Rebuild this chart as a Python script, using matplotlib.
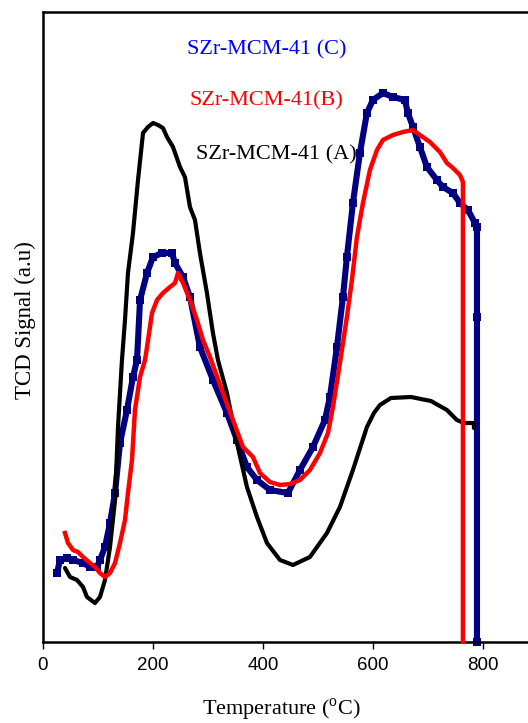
import matplotlib
matplotlib.use("Agg")
import matplotlib.pyplot as plt

plt.rcParams['mathtext.fontset'] = 'custom'
plt.rcParams['mathtext.rm'] = 'Liberation Serif'

# Sample A (black)
temp_a = [40.8, 49.9, 62.6, 73.5, 80.7, 95.2, 104.3, 113.4, 122.5, 131.6, 137.0, 144.2,
          149.7, 155.1, 164.2, 173.3, 182.4, 191.4, 200.5, 209.6, 218.6, 225.9, 236.8,
          249.5, 258.5, 267.6, 276.7, 285.7, 298.4, 309.3, 318.4, 334.7, 352.9, 371.0,
          389.2, 407.3, 430.9, 454.5, 485.3, 516.2, 539.7, 563.3, 588.7, 601.4, 612.3,
          632.3, 668.6, 704.9, 733.9, 752.0, 764.7, 782.9, 782.9]
sig_a = [73.7, 64.7, 61.7, 54.7, 44.7, 38.7, 44.7, 61.7, 94.7, 141.7, 214.7, 281.7,
         321.7, 368.7, 408.7, 461.7, 508.7, 514.7, 518.7, 516.7, 513.7, 504.7, 494.7,
         474.7, 464.7, 434.7, 421.7, 388.7, 348.7, 308.7, 281.7, 248.7, 198.7, 154.7,
         124.7, 98.7, 81.7, 76.7, 84.7, 108.7, 134.7, 171.7, 214.7, 228.7, 236.7,
         243.7, 244.7, 240.7, 231.7, 221.7, 218.7, 218.7, 213.7]

# Sample B (red)
temp_b = [40.8, 46.3, 55.3, 64.4, 73.5, 86.2, 95.2, 104.3, 113.4, 122.5, 131.6, 140.6,
          149.7, 155.1, 162.4, 167.8, 176.9, 186.0, 189.7, 198.7, 207.8, 218.6, 231.4,
          240.4, 245.9, 255.0, 267.6, 280.3, 291.2, 303.9, 327.5, 345.6, 363.8, 381.9,
          394.6, 412.8, 430.9, 449.1, 467.2, 485.3, 503.5, 518.0, 527.1, 539.7, 552.4,
          561.5, 570.6, 581.5, 594.2, 606.9, 617.7, 635.9, 654.0, 672.2, 684.9, 703.0,
          721.2, 733.9, 744.8, 757.5, 762.9, 762.9]
sig_b = [108.7, 98.7, 91.7, 89.7, 84.7, 78.7, 74.7, 68.7, 64.7, 68.7, 78.7, 98.7,
         121.7, 148.7, 181.7, 231.7, 264.7, 281.7, 294.7, 328.7, 341.7, 348.7, 354.7,
         358.7, 368.7, 358.7, 341.7, 321.7, 301.7, 284.7, 248.7, 221.7, 194.7, 184.7,
         168.7, 159.7, 156.7, 157.7, 161.7, 171.7, 188.7, 208.7, 234.7, 278.7, 324.7,
         361.7, 404.7, 438.7, 471.7, 491.7, 501.7, 506.7, 509.7, 511.7, 506.7, 499.7,
         489.7, 478.7, 473.7, 466.7, 459.7, 0.0]

# Sample C (navy)
temp_c = [26.3, 31.8, 44.5, 55.3, 73.5, 86.2, 98.9, 104.3, 113.4, 122.5, 131.6, 140.6,
          153.3, 164.2, 171.5, 177.0, 189.7, 200.5, 216.8, 234.9, 240.4, 254.9, 267.6,
          285.7, 309.3, 334.7, 352.9, 371.0, 389.2, 412.8, 445.4, 467.2, 490.8, 512.5,
          521.6, 534.3, 545.2, 552.4, 563.3, 576.0, 588.7, 599.6, 617.7, 635.9, 657.6,
          663.1, 672.2, 684.9, 697.6, 715.7, 726.6, 744.8, 757.5, 772.0, 784.7, 788.4,
          788.4, 788.4]
sig_c = [68.7, 81.7, 83.7, 81.7, 78.7, 74.7, 74.7, 81.7, 94.7, 118.7, 148.7, 198.7,
         231.7, 264.7, 281.7, 341.7, 368.7, 384.7, 388.7, 388.7, 378.7, 364.7, 344.7,
         294.7, 261.7, 228.7, 201.7, 174.7, 161.7, 151.7, 148.7, 171.7, 194.7, 221.7,
         244.7, 294.7, 344.7, 384.7, 438.7, 488.7, 528.7, 541.7, 548.7, 544.7, 541.7,
         528.7, 514.7, 494.7, 474.7, 461.7, 454.7, 448.7, 438.7, 431.7, 418.7, 414.7,
         325.0, 0.0]

xticks = [0, 200, 400, 600, 800]
labels = ["SZr-MCM-41 (C)", "SZr-MCM-41(B)", "SZr-MCM-41 (A)"]

fig = plt.figure(figsize=(5.28, 7.23), dpi=100)
ax = fig.add_axes([42.5/528, (723-641.7)/723, 1 - 42.5/528, (641.7-12)/723])

ax.plot(temp_c, sig_c, color='#000080', lw=4.4, marker='s', ms=5.2, mew=0,
        solid_joinstyle='round', zorder=2, clip_on=False)
ax.plot(temp_a, sig_a, color='black', lw=3.0, solid_joinstyle='round',
        solid_capstyle='round', zorder=3, clip_on=False)
ax.plot(temp_b, sig_b, color='#ff0000', lw=3.2, solid_joinstyle='round',
        zorder=4, clip_on=False)

ax.set_xlim(0, 881)
ax.set_ylim(0, 629.7)
ax.set_xticks(xticks)
ax.set_xticklabels([str(t) for t in xticks], fontfamily='Liberation Sans', fontsize=13.5)
ax.set_yticks([])
ax.tick_params(axis='x', direction='out', length=5, width=1, pad=6)
for s in ['left', 'top', 'bottom']:
    ax.spines[s].set_linewidth(1.8)
ax.spines['right'].set_visible(False)

serif = 'Liberation Serif'
ax.text(262, 592, labels[0], color='#0000ff', fontsize=16, family=serif, va='center', ha='left')
ax.text(267.6, 541, labels[1], color='#ff0000', fontsize=16, family=serif, va='center', ha='left')
ax.text(278.5, 486.7, labels[2], color='black', fontsize=16, family=serif, va='center', ha='left')

ax.set_xlabel(r"Temperature ($^{\mathrm{o}}$C)", fontsize=16, family=serif, va='center', ha='center')
ax.xaxis.set_label_coords(0.491, -0.1085)
ax.set_ylabel("TCD Signal (a.u)", fontsize=16.5, family=serif, va='center', ha='center')
ax.yaxis.set_label_coords(-0.036, 0.511)

fig.savefig("out.png", dpi=100)
